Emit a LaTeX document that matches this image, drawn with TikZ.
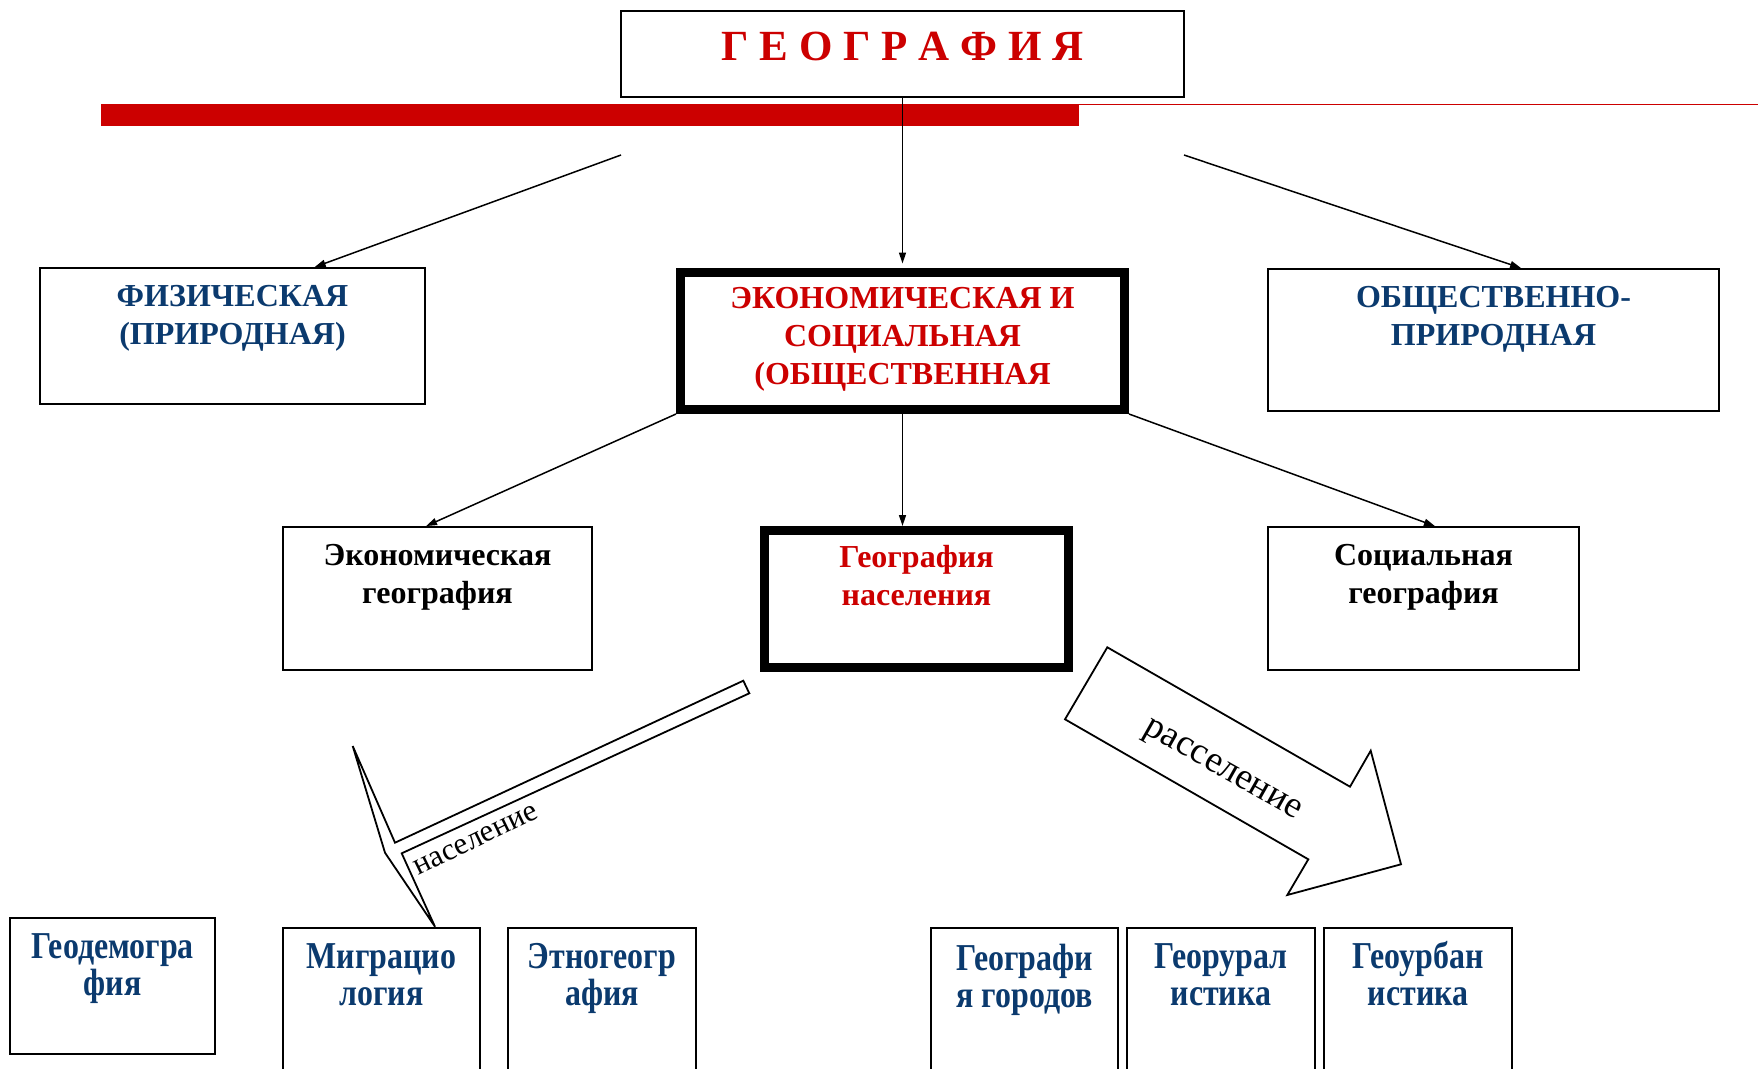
\documentclass[tikz,border=0pt]{standalone}
\usepackage{fontspec}
\setmainfont{Liberation Serif}
\newfontfamily\narrowserif[FakeStretch=0.84]{Liberation Serif}
\usetikzlibrary{arrows.meta}
\definecolor{geored}{HTML}{CC0000}
\definecolor{geonavy}{HTML}{0B3A6E}
\begin{document}
\begin{tikzpicture}[x=1pt, y=-1pt,
  box/.style n args={2}{draw, line width=1.8pt, minimum width=#1, minimum height=#2, inner sep=0pt},
  boldbox/.style n args={2}{draw, line width=9pt, minimum width=#1, minimum height=#2, inner sep=0pt},
  headtxt/.style={font=\bfseries\fontsize{32}{38}\selectfont, align=center, inner sep=0pt, anchor=north, yshift=-18.5pt},
  subtxt/.style={font=\narrowserif\bfseries\fontsize{38}{37}\selectfont, text=geonavy, align=center, inner sep=0pt, anchor=north, yshift=-16.5pt},
  link/.style={line width=1.5pt, -{Triangle[length=11pt, width=7pt]}},
  bentarrow/.style={draw, line width=1.8pt, fill=white, line join=miter}]
\useasboundingbox (0,0) rectangle (1758,1068);
\fill[geored] (101,104) rectangle (1079,126);
\draw[geored, line width=1.5pt] (1079,104.5) -- (1758,104.5);

\node[box={563pt}{86pt}, label={[font=\bfseries\fontsize{43}{43}\selectfont, text=geored, anchor=north, inner sep=0pt, yshift=-21.5pt]north:Г Е О Г Р А Ф И Я}] (geo) at (902.5,54){};

\node[box={385pt}{136pt}, label={[headtxt, text=geonavy]north:ФИЗИЧЕСКАЯ\\(ПРИРОДНАЯ)}] (phys) at (232.5,336){};
\node[boldbox={444pt}{137pt}, label={[headtxt, text=geored, yshift=-0.5pt]north:ЭКОНОМИЧЕСКАЯ И\\СОЦИАЛЬНАЯ\\(ОБЩЕСТВЕННАЯ}] (econ) at (902.5,341){};
\node[box={451pt}{142pt}, label={[headtxt, text=geonavy]north:ОБЩЕСТВЕННО-\\ПРИРОДНАЯ}] (soc) at (1493.5,340){};

\node[box={309pt}{143pt}, label={[headtxt]north:Экономическая\\география}] (ecgeo) at (437.5,598.5){};
\node[boldbox={304pt}{137pt}, label={[headtxt, text=geored, yshift=-0.5pt]north:География\\населения}] (popgeo) at (916.5,599){};
\node[box={311pt}{143pt}, label={[headtxt]north:Социальная\\география}] (socgeo) at (1423.5,598.5){};

\node[box={205pt}{136pt}, label={[subtxt]north:Геодемогра\\фия}] (demo) at (112.5,986){};
\node[box={197pt}{160pt}, label={[subtxt]north:Миграцио\\логия}] (migr) at (381.5,1008){};
\node[box={188pt}{160pt}, label={[subtxt]north:Этногеогр\\афия}] (ethno) at (602,1008){};
\node[box={187pt}{160pt}, label={[subtxt]north:Географи\\я городов}] (city) at (1024.5,1008){};
\node[box={188pt}{160pt}, label={[subtxt]north:Георурал\\истика}] (rural) at (1221,1008){};
\node[box={188pt}{160pt}, label={[subtxt, yshift=3pt]north:Геоурбан\\истика}] (urban) at (1418,1008){};

\coordinate (fl) at (621,155);
\coordinate (fr) at (1184,155);
\draw[link] (fl) -- (phys.40);
\draw[link] (fr) -- (soc.69);
\draw[link, shorten >=4.5pt] (geo.south) -- (econ.north);
\draw[link] (econ.south west) -- (ecgeo.99);
\draw[link] (econ.south) -- (econ.south |- popgeo.north);
\draw[link] (econ.south east) -- (socgeo.81);

\draw[bentarrow] (743.3,680.7) -- (395,842.7) -- (352.7,746) -- (385,852.7) -- (435,926.7) -- (401.7,853.3) -- (749.3,693.3) -- cycle;
\node[rotate=26, font=\fontsize{31}{31}\selectfont] (pop) at (476,840){население};
\draw[bentarrow] (1107.3,647.3) -- (1350,786.7) -- (1370.7,750.7) -- (1401,864.3) -- (1287.3,895) -- (1308.3,859.3) -- (1065,719.3) -- cycle;
\node[rotate=-29.5, font=\fontsize{37}{37}\selectfont] (settle) at (1221.5,771.7){расселение};

\end{tikzpicture}
\end{document}
